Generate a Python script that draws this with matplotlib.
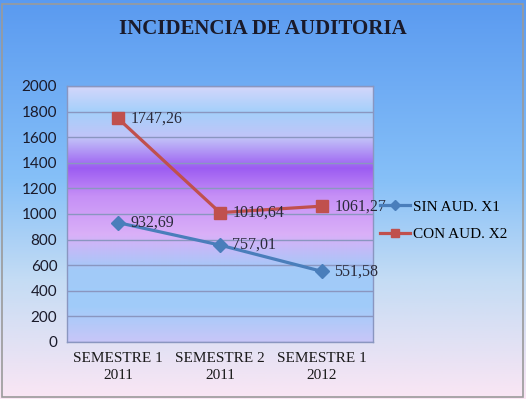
import matplotlib
matplotlib.use("Agg")
import matplotlib.pyplot as plt
import numpy as np
from matplotlib.colors import LinearSegmentedColormap
from matplotlib.patches import Rectangle

categories = ["SEMESTRE 1\n2011", "SEMESTRE 2\n2011", "SEMESTRE 1\n2012"]
sin_aud = [932.69, 757.01, 551.58]
con_aud = [1747.26, 1010.64, 1061.27]
sin_labels = ["932,69", "757,01", "551,58"]
con_labels = ["1747,26", "1010,64", "1061,27"]

serif = "Liberation Serif"
sans = "Lato"

fig = plt.figure(figsize=(5.26, 3.99), dpi=100)

# figure background gradient (blue top -> pale pink bottom)
bg = fig.add_axes([0, 0, 1, 1], zorder=-10)
bg_cmap = LinearSegmentedColormap.from_list("bg", [
    (0.0, "#5a9af0"), (0.45, "#86c0f8"), (0.7, "#c4dcf4"), (1.0, "#fbe6f4")])
bg.imshow(np.linspace(0, 1, 256).reshape(-1, 1), cmap=bg_cmap, aspect="auto",
          extent=[0, 1, 0, 1])
bg.set_axis_off()
fig.patches.append(Rectangle((0.004, 0.006), 0.99, 0.985, transform=fig.transFigure,
                             fill=False, edgecolor="#9a9a9a", lw=1.2))

ax = fig.add_axes([0.1274, 0.1429, 0.5817, 0.6416])
x = np.arange(len(categories))

# plot area gradient
pa_cmap = LinearSegmentedColormap.from_list("pa", [
    (0.0, "#d4d6fb"), (0.1, "#a4d0fa"), (0.2, "#c2c4f8"), (0.32, "#9c5cf2"),
    (0.43, "#c690f6"), (0.58, "#dab0f8"), (0.72, "#a2caf8"), (0.86, "#a0ccfa"),
    (1.0, "#c8c6f8")])
ax.imshow(np.linspace(0, 1, 256).reshape(-1, 1), cmap=pa_cmap, aspect="auto",
          extent=[-0.5, 2.5, 0, 2000], zorder=0)

ax.set_xlim(-0.5, 2.5)
ax.set_ylim(0, 2000)
ax.set_yticks(range(0, 2001, 200))
ax.yaxis.grid(True, color="#8a96c0", lw=1, zorder=1)
ax.set_axisbelow(False)

ax.plot(x, sin_aud, color="#4a7ebb", lw=2.3, marker="D", ms=7,
        label="SIN AUD. X1", zorder=3)
ax.plot(x, con_aud, color="#c0504d", lw=2.3, marker="s", ms=9,
        label="CON AUD. X2", zorder=3)

for xi, v, t in zip(x, sin_aud, sin_labels):
    ax.text(xi + 0.12, v, t, fontfamily=serif, fontsize=11.5, color="#2a2a3a",
            va="center", ha="left", zorder=4)
for xi, v, t in zip(x, con_aud, con_labels):
    ax.text(xi + 0.12, v, t, fontfamily=serif, fontsize=11.5, color="#2a2a3a",
            va="center", ha="left", zorder=4)

ax.set_xticks(x)
ax.set_xticklabels(categories, fontfamily=serif, fontsize=11, color="#1a1a1a",
                   linespacing=1.45)
for lbl in ax.get_yticklabels():
    lbl.set_fontfamily(sans)
    lbl.set_fontsize(11)
    lbl.set_color("#1a1a2a")
ax.tick_params(axis="both", length=0, pad=7)
for s in ax.spines.values():
    s.set_color("#8a96c0")
    s.set_linewidth(1)

fig.text(0.5, 0.928, "INCIDENCIA DE AUDITORIA", ha="center", va="center",
         fontfamily=serif, fontsize=15, fontweight="bold", color="#1a1a2a")

leg = fig.legend(loc="center left", bbox_to_anchor=(0.722, 0.447), frameon=False,
                 prop={"family": serif, "size": 11}, handlelength=2.0,
                 handletextpad=0.2, labelspacing=0.9, markerscale=0.7,
                 borderpad=0, borderaxespad=0)

fig.savefig("out.png", dpi=100)
